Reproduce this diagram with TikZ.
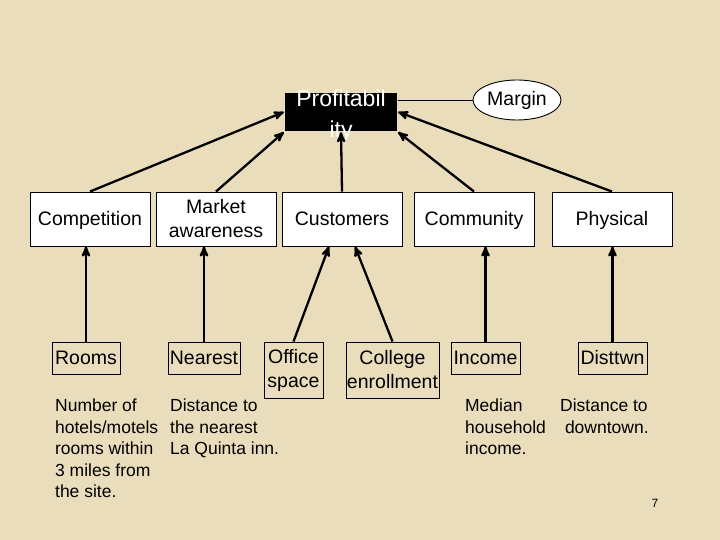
\documentclass[tikz,border=0pt]{standalone}
\usepackage{fontspec}
\setmainfont{Liberation Sans}
\usepackage{tikz}
\usetikzlibrary{positioning}
\usetikzlibrary{shapes,arrows}
\definecolor{parchment}{RGB}{234,221,188}

\begin{document}
\begin{tikzpicture}[->, >=stealth', x=1pt, y=-1pt, line width=2.3pt]
\tikzstyle{top}=[draw=black,fill=white,line width=0.9pt,minimum width=120pt,minimum height=54pt,inner sep=1pt,align=center,font=\fontsize{19.5}{24}\selectfont]
\tikzstyle{leaf}=[draw=black,line width=0.9pt,minimum height=32pt,inner sep=1pt,align=center,font=\fontsize{19.5}{24}\selectfont]
\tikzstyle{one}=[text height=17pt,text depth=4pt]
\tikzstyle{note}=[anchor=north west,inner sep=0pt,align=left,font=\fontsize{17.5}{21.5}\selectfont]
\fill[parchment] (0,0) rectangle (720,540);
\useasboundingbox (0,0) rectangle (720,540);

\node[fill=black,minimum width=112pt,minimum height=38pt,inner sep=0pt] (1) at (341,112) {};
\node[anchor=north,inner sep=0pt,align=center,text=white,font=\fontsize{23}{31}\selectfont] (1a) at (341,88.5) {Profitabil\\ity};
\node[ellipse,draw=black,fill=white,line width=0.9pt,minimum width=88pt,minimum height=40pt,inner sep=0pt,font=\fontsize{19.5}{24}\selectfont] (13) at (517,100) {Margin};

\node[top,one] (2) at (90,219) {Competition};
\node[top] (3) at (216,219) {Market\\awareness};
\node[top,one] (4) at (342,219) {Customers};
\node[top,one] (5) at (474,219) {Community};
\node[top,one] (6) at (612,219) {Physical};

\node[leaf,one,minimum width=68pt] (7) at (86,358) {Rooms};
\node[leaf,one,minimum width=72pt] (8) at (204,358) {Nearest};
\node[leaf,minimum width=59pt,minimum height=56pt] (9) at (293.5,370) {Office\\space};
\node[leaf,minimum width=91pt,minimum height=56pt] (10) at (392.5,370) {College\\enrollment};
\node[leaf,one,minimum width=69pt] (11) at (485.5,358) {Income};
\node[leaf,one,minimum width=69pt] (12) at (612.5,358) {Disttwn};

\node[note] (14) at (54,398) {Number of\\hotels/motels\\rooms within\\3 miles from\\the site.};
\node[note] (15) at (169,398) {Distance to\\the nearest\\La Quinta inn.};
\node[note] (16) at (464,398) {Median\\household\\income.};
\node[note] (17) at (559,398) {Distance to\\\ downtown.};
\node[inner sep=0pt,font=\fontsize{12}{14}\selectfont] (18) at (655,503) {7};

\path
(2.north) edge (1.west)
(3.north) edge (1.south west)
(4.north) edge (1.south)
(5.north) edge (1.south east)
(6.north) edge (1.east)
(7.north) edge (7.north |- 2.south)
(8.north) edge (8.north |- 3.south)
(9.north) edge ([xshift=-13pt]4.south)
(10.north) edge ([xshift=13pt]4.south)
(11.north) edge (11.north |- 5.south)
(12.north) edge (12.north |- 6.south)
(13.west) edge[-, line width=0.9pt] (13.west -| 1.east)
;
\end{tikzpicture}
\end{document}
